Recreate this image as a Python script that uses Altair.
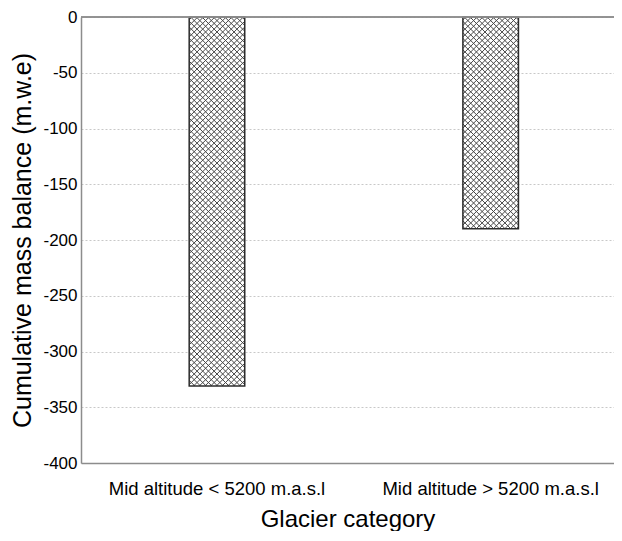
import altair as alt
import pandas as pd

# ---- data ----
categories = ["Mid altitude < 5200 m.a.s.l", "Mid altitude > 5200 m.a.s.l"]
values = [-331, -190]
y_tick_values = list(range(-400, 1, 25))

# ---- layout ----
W, H = 533, 446
PAD = {"left": 73, "top": 9, "right": 0, "bottom": 68}
Y_MIN, Y_MAX = -400, 0
P_INNER, P_OUTER, ALIGN = 0.797, 0.3722, 0.531
FONT = "Liberation Sans"

df = pd.DataFrame({"category": categories, "value": values})

step = W / (len(categories) - P_INNER + 2 * P_OUTER)
band_px = step * (1 - P_INNER)


def hatch(w, h, direction, period=5.7, half=1.0, color="#454545"):
    """Linear gradient (object bounding box units) giving 45 deg stripes."""
    s = h / w
    a = (w + h) / (w * (1 + s * s))
    span = w + h
    clear = "rgba(69,69,69,0)"
    stops = []
    n = int(span / period) + 2
    last = 0.0
    for i in range(n):
        c = i * period + period / 2
        for off, col in ((c - half, clear), (c, color), (c + half, clear)):
            t = min(max(off / span, 0.0), 1.0)
            t = max(t, last)
            last = t
            stops.append({"offset": round(t, 6), "color": col})
    if direction > 0:
        x1, y1, x2, y2 = 0, 0, a, a * s
    else:
        x1, y1, x2, y2 = 1, 0, 1 - a, a * s
    return {"gradient": "linear", "x1": x1, "y1": y1, "x2": x2, "y2": y2,
            "stops": stops}


x_enc = alt.X(
    "category:N",
    sort=categories,
    title="Glacier category",
    scale=alt.Scale(paddingInner=P_INNER, paddingOuter=P_OUTER, align=ALIGN),
    axis=alt.Axis(
        labelAngle=0,
        labelFontSize=18.5,
        labelColor="#000000",
        labelPadding=16,
        labelLimit=0,
        ticks=False,
        grid=False,
        domainColor="#8c8c8c",
        domainWidth=1.5,
        titleFontSize=24,
        titleFontWeight="normal",
        titleColor="#000000",
        titlePadding=10,
    ),
)

y_enc = alt.Y(
    "value:Q",
    title="Cumulative mass balance (m.w.e)",
    scale=alt.Scale(domain=[Y_MIN, Y_MAX], nice=False, zero=False),
    axis=alt.Axis(
        values=y_tick_values,
        labelExpr="datum.value % 50 == 0 ? toString(datum.value) : ''",
        labelFontSize=17,
        labelColor="#000000",
        labelPadding=4,
        ticks=False,
        grid=True,
        gridDash=[2, 2],
        gridColor="#c8c8c8",
        gridWidth=1,
        domainColor="#8c8c8c",
        domainWidth=1.5,
        titleFontSize=25,
        titleFontWeight="normal",
        titleColor="#000000",
        titlePadding=7,
    ),
)

base = alt.Chart(df).mark_bar(fill="white", strokeWidth=0).encode(x=x_enc, y=y_enc)

layers = [base]
for cat, val in zip(categories, values):
    h_px = abs(val) * H / (Y_MAX - Y_MIN)
    for d in (1, -1):
        layers.append(
            alt.Chart(df)
            .transform_filter(alt.datum.category == cat)
            .mark_bar(fill=hatch(band_px, h_px, d), strokeWidth=0)
            .encode(x=x_enc, y=y_enc)
        )

outline = alt.Chart(df).mark_bar(
    fill="white", fillOpacity=0, stroke="#2b2b2b", strokeWidth=1.5
).encode(x=x_enc, y=y_enc)
layers.append(outline)

zero_rule = alt.Chart(df).mark_rule(color="#8c8c8c", strokeWidth=1.5).encode(
    y=alt.datum(0)
)
layers.append(zero_rule)

chart = (
    alt.layer(*layers)
    .properties(width=W, height=H, padding=PAD,
                autosize=alt.AutoSizeParams(type="none"))
    .configure(font=FONT)
    .configure_view(stroke=None)
)

chart.save("out.html", embed_options={"renderer": "svg", "actions": False})
